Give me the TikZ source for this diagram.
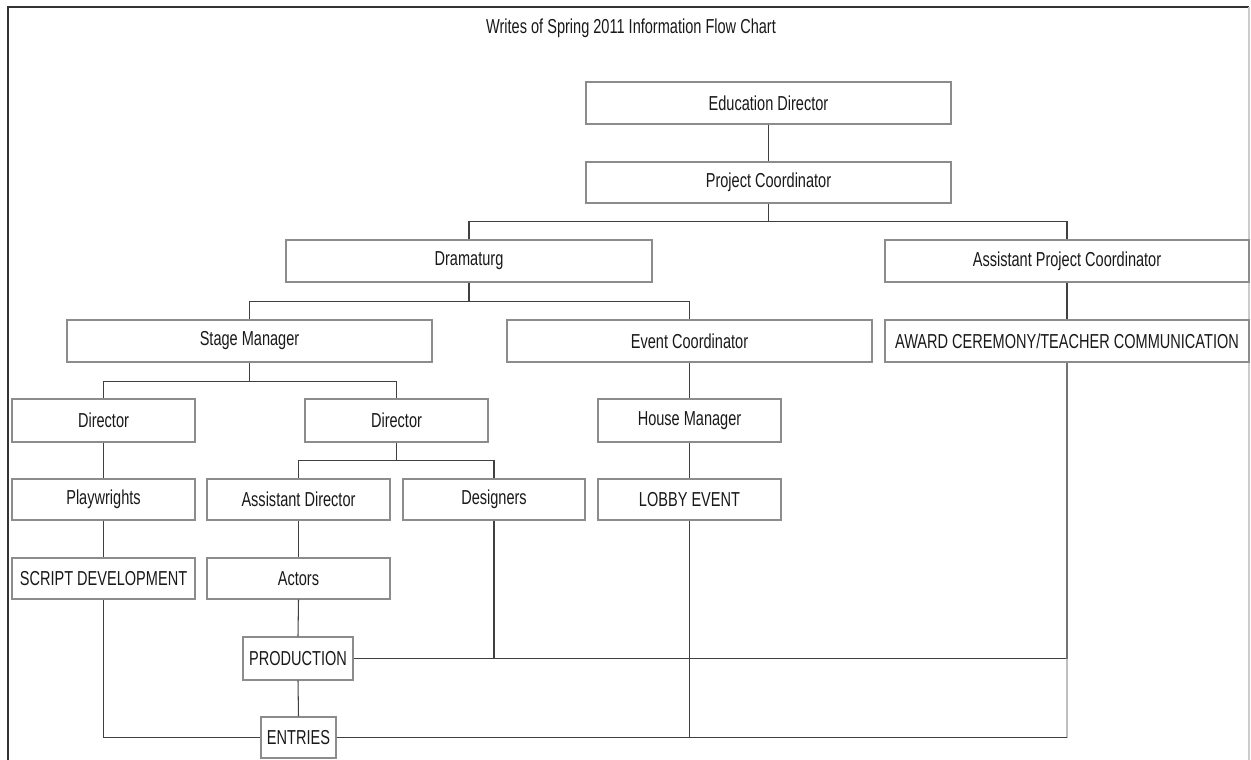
\documentclass[tikz,border=0pt]{standalone}
\usepackage{fontspec}
\setmainfont{Liberation Sans}[FakeStretch=0.72]
\begin{document}
\begin{tikzpicture}[x=0.02cm,y=-0.02cm,
  every node/.style={font=\fontsize{11.5}{13}\selectfont, text=black!90},
  box/.style 2 args={draw=black!45, line width=0.6pt, inner sep=0pt,
    minimum width=#1*0.02cm, minimum height=#2*0.02cm},
  conn/.style={draw=black!75, line width=0.6pt},
  frame/.style={draw=black!80, line width=1pt}]
\useasboundingbox (0,0) rectangle (1251,760);
% frame
\draw[frame] (8,762) -- (8,7) -- (1249,7);
\draw[draw=black!20, line width=0.6pt] (1249,7) -- (1249,762);
% title
\node (title) at (631,28) {Writes of Spring 2011 Information Flow Chart};
% boxes
\node[box={365}{42}] (ED) at (768.5,103) {Education Director};
\node[box={365}{41}] (PC) at (768.5,182.5) {Project Coordinator};
\node[box={366}{42}] (DR) at (469,261) {Dramaturg};
\node[box={364}{42}] (APC) at (1067,261) {Assistant Project Coordinator};
\node[box={365}{42}] (SM) at (249.5,341) {Stage Manager};
\node[box={365}{42}] (EC) at (689.5,341) {Event Coordinator};
\node[box={364}{42}] (AW) at (1067,341) {AWARD CEREMONY/TEACHER COMMUNICATION};
\node[box={183}{43}] (D1) at (103.5,420.5) {Director};
\node[box={183}{43}] (D2) at (396.5,420.5) {Director};
\node[box={183}{43}] (HM) at (689.5,420.5) {House Manager};
\node[box={183}{41}] (PW) at (103.5,499.5) {Playwrights};
\node[box={183}{41}] (AD) at (298.5,499.5) {Assistant Director};
\node[box={182}{41}] (DS) at (494,499.5) {Designers};
\node[box={183}{41}] (LE) at (689.5,499.5) {LOBBY EVENT};
\node[box={183}{41}] (SD) at (103.5,578.5) {SCRIPT DEVELOPMENT};
\node[box={183}{41}] (AC) at (298.5,578.5) {Actors};
\node[box={110}{43}] (PR) at (298,658.5) {PRODUCTION};
\node[box={75}{41}] (EN) at (298.5,737.5) {ENTRIES};
% connectors
\draw[conn] (ED.south) -- (PC.north);
\draw[conn] (PC.south) -- ++(0,18) -| (DR.north);
\draw[conn] (PC.south) ++(0,18) -| (APC.north);
\draw[conn] (APC.south) -- (AW.north);
\draw[conn] (DR.south) -- ++(0,19) -| (SM.north);
\draw[conn] (DR.south) ++(0,19) -| (EC.north);
\draw[conn] (SM.south) -- ++(0,19) -| (D1.north);
\draw[conn] (SM.south) ++(0,19) -| (D2.north);
\draw[conn] (EC.south) -- (HM.north);
\draw[conn] (HM.south) -- (LE.north);
\draw[conn] (D1.south) -- (PW.north);
\draw[conn] (PW.south) -- (SD.north);
\draw[conn] (D2.south) -- ++(0,18) -| (AD.north);
\draw[conn] (D2.south) ++(0,18) -| (DS.north);
\draw[conn] (AD.south) -- (AC.north);
\draw[conn] (AC.south) -- (PR.north);
\draw[conn] (PR.south) -- (EN.north);
\draw[conn, line width=0.9pt] (PR.east) -- (PR.east -| AW.south);
\draw[conn] (DS.south) -- (DS.south |- PR.east);
\draw[conn] (LE.south) -- (LE.south |- EN.east);
\draw[conn, draw=black!55, line width=0.9pt] (AW.south) -- (AW.south |- PR.east);
\draw[conn, draw=black!25] (AW.south |- PR.east) -- (AW.south |- EN.east);
\draw[conn] (SD.south) |- (EN.west);
\draw[conn] (EN.east) -- (EN.east -| AW.south);
\end{tikzpicture}
\end{document}
